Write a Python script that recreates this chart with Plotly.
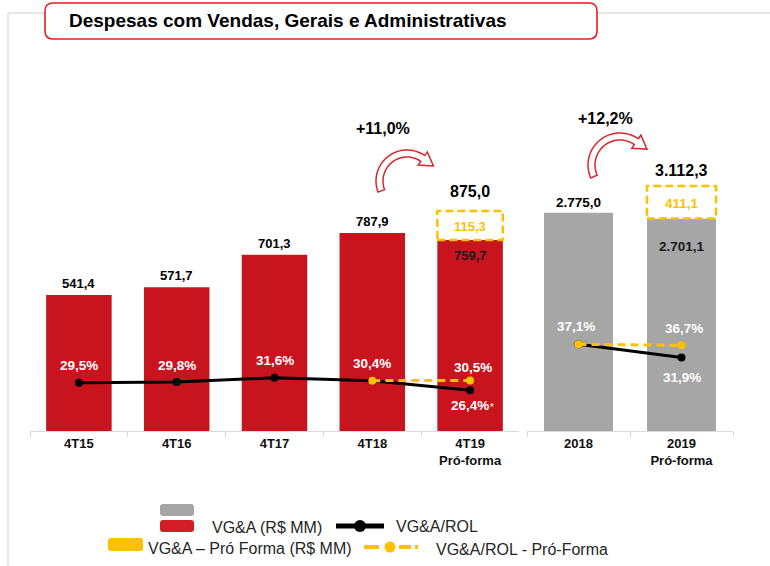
import math
import plotly.graph_objects as go

W, H = 770, 566

# ---------------- data ----------------
q_cats = ["4T15", "4T16", "4T17", "4T18", "4T19<br>Pró-forma"]
q_vga = [541.4, 571.7, 701.3, 787.9, 759.7]
q_pf_add = 115.3
q_total_pf = 875.0
q_ratio = [29.5, 29.8, 31.6, 30.4, 26.4]
q_ratio_pf_cats = ["4T18", "4T19<br>Pró-forma"]
q_ratio_pf = [30.4, 30.5]

y_cats = ["2018", "2019<br>Pró-forma"]
y_vga = [2775.0, 2701.1]
y_pf_add = 411.1
y_total_pf = 3112.3
y_ratio = [37.1, 31.9]
y_ratio_pf = [37.1, 36.7]

growth_labels = ["+11,0%", "+12,2%"]
title_text = "Despesas com Vendas, Gerais e Administrativas"
legend_labels = ["VG&A (R$ MM)", "VG&A/ROL", "VG&A – Pró Forma (R$ MM)", "VG&A/ROL - Pró-Forma"]

# ---------------- style ----------------
RED = "#C8141E"
GRAY = "#A6A6A6"
YEL = "#FFC000"
BLK = "#000000"
ARROW_RED = "#D7262E"
FONT = "Liberation Sans, Arial, sans-serif"
BW = 0.67


def br(v, d=1):
    s = f"{v:,.{d}f}"
    return s.replace(",", "X").replace(".", ",").replace("X", ".")


def pct(v):
    return br(v) + "%"


def PX(px):
    return px / W


def PY(py):
    return 1 - py / H


Y0, Y1 = PY(431), PY(60)

fig = go.Figure()

# bars
fig.add_trace(go.Bar(x=q_cats, y=q_vga, marker=dict(color=RED, line=dict(width=0)),
                     width=BW, xaxis="x", yaxis="y", hoverinfo="skip"))
fig.add_trace(go.Bar(x=y_cats, y=y_vga, marker=dict(color=GRAY, line=dict(width=0)),
                     width=BW, xaxis="x2", yaxis="y3", hoverinfo="skip"))

# ratio lines
fig.add_trace(go.Scatter(x=q_cats, y=q_ratio, mode="lines+markers",
                         line=dict(color=BLK, width=3), marker=dict(color=BLK, size=8),
                         xaxis="x", yaxis="y2", hoverinfo="skip"))
fig.add_trace(go.Scatter(x=q_ratio_pf_cats, y=q_ratio_pf, mode="lines+markers",
                         line=dict(color=YEL, width=3, dash="8px,5px"), marker=dict(color=YEL, size=8),
                         xaxis="x", yaxis="y2", hoverinfo="skip"))
fig.add_trace(go.Scatter(x=y_cats, y=y_ratio, mode="lines+markers",
                         line=dict(color=BLK, width=3), marker=dict(color=BLK, size=8),
                         xaxis="x2", yaxis="y4", hoverinfo="skip"))
fig.add_trace(go.Scatter(x=y_cats, y=y_ratio_pf, mode="lines+markers",
                         line=dict(color=YEL, width=3, dash="8px,5px"), marker=dict(color=YEL, size=8),
                         xaxis="x2", yaxis="y4", hoverinfo="skip"))

tickfont = dict(family=FONT, size=13, color="#111111", weight="bold")
xcommon = dict(type="category", showline=True, linecolor="#D9D9D9", linewidth=1,
               ticks="outside", tickson="boundaries", ticklen=5, tickcolor="#D9D9D9",
               tickfont=tickfont, showgrid=False, zeroline=False, fixedrange=True)

fig.update_layout(
    width=W, height=H, margin=dict(l=0, r=0, t=0, b=0),
    paper_bgcolor="white", plot_bgcolor="white", showlegend=False, barmode="overlay",
    xaxis=dict(domain=[PX(30), PX(519)], anchor="y", categoryorder="array", categoryarray=q_cats,
               range=[-0.5, len(q_cats) - 0.5], **xcommon),
    yaxis=dict(domain=[Y0, Y1], anchor="x", range=[0, 1476], visible=False, fixedrange=True),
    yaxis2=dict(overlaying="y", anchor="x", range=[9.25, 165.1], visible=False, fixedrange=True),
    xaxis2=dict(domain=[PX(527), PX(733)], anchor="y3", categoryorder="array", categoryarray=y_cats,
                range=[-0.5, len(y_cats) - 0.5], **xcommon),
    yaxis3=dict(domain=[Y0, Y1], anchor="x2", range=[0, 4715], visible=False, fixedrange=True),
    yaxis4=dict(overlaying="y3", anchor="x2", range=[3.1, 148.6], visible=False, fixedrange=True),
)

shapes = []
anns = []

# page frame lines
shapes.append(dict(type="line", xref="paper", yref="paper", x0=PX(8), y0=PY(13), x1=1, y1=PY(13),
                   line=dict(color="#DDDDDD", width=1.5), layer="below"))
shapes.append(dict(type="line", xref="paper", yref="paper", x0=PX(8), y0=PY(13), x1=PX(8), y1=0,
                   line=dict(color="#DDDDDD", width=1.5), layer="below"))


def rrect(x0, y0, x1, y1, r):
    pts = (f"M {PX(x0 + r)},{PY(y0)} L {PX(x1 - r)},{PY(y0)} Q {PX(x1)},{PY(y0)} {PX(x1)},{PY(y0 + r)} "
           f"L {PX(x1)},{PY(y1 - r)} Q {PX(x1)},{PY(y1)} {PX(x1 - r)},{PY(y1)} "
           f"L {PX(x0 + r)},{PY(y1)} Q {PX(x0)},{PY(y1)} {PX(x0)},{PY(y1 - r)} "
           f"L {PX(x0)},{PY(y0 + r)} Q {PX(x0)},{PY(y0)} {PX(x0 + r)},{PY(y0)} Z")
    return pts


# title box
shapes.append(dict(type="path", xref="paper", yref="paper", path=rrect(45, 3, 597, 39, 8),
                   line=dict(color="#E31E24", width=1.6), fillcolor="white"))
anns.append(dict(xref="paper", yref="paper", x=PX(67), y=PY(20), xanchor="left", yanchor="middle",
                 text=title_text, showarrow=False,
                 font=dict(family=FONT, size=19, color="#000000", weight="bold")))

# pro-forma dashed boxes (from data)
qi = len(q_cats) - 1
shapes.append(dict(type="rect", xref="x", yref="y", x0=qi - BW / 2, x1=qi + BW / 2,
                   y0=q_vga[-1], y1=q_vga[-1] + q_pf_add, fillcolor="white",
                   line=dict(color=YEL, width=2.5, dash="8px,4px")))
yi = len(y_cats) - 1
shapes.append(dict(type="rect", xref="x2", yref="y3", x0=yi - BW / 2, x1=yi + BW / 2,
                   y0=y_vga[-1], y1=y_vga[-1] + y_pf_add, fillcolor="white",
                   line=dict(color=YEL, width=2.5, dash="8px,4px")))


def lab(x, y, xref, yref, text, size=13, color="#000000", yanchor="bottom", yshift=0, xshift=0, bold=True):
    anns.append(dict(x=x, y=y, xref=xref, yref=yref, text=text, showarrow=False,
                     yanchor=yanchor, xanchor="center", yshift=yshift, xshift=xshift,
                     font=dict(family=FONT, size=size, color=color, weight="bold" if bold else "normal")))


# category positions as indices (avoid numeric-looking category strings)
qx = {c: i for i, c in enumerate(q_cats)}
yx = {c: i for i, c in enumerate(y_cats)}

# bar value labels (quarterly)
for c, v in zip(q_cats[:-1], q_vga[:-1]):
    lab(qx[c], v, "x", "y", br(v), size=13, yshift=2)
lab(qi, q_vga[-1], "x", "y", br(q_vga[-1]), size=13, color="#1A1A1A", yanchor="top", yshift=-6)
lab(qi, q_vga[-1] + q_pf_add / 2, "x", "y", br(q_pf_add), size=13, color=YEL, yanchor="middle", yshift=-1)
lab(qi, q_total_pf, "x", "y", br(q_total_pf), size=16, yshift=9)

# bar value labels (annual)
lab(yx[y_cats[0]], y_vga[0], "x2", "y3", br(y_vga[0]), size=13.5, yshift=1)
lab(yi, y_vga[-1], "x2", "y3", br(y_vga[-1]), size=13.5, color="#1A1A1A", yanchor="top", yshift=-19)
lab(yi, y_vga[-1] + y_pf_add / 2, "x2", "y3", br(y_pf_add), size=13.5, color=YEL, yanchor="middle", yshift=-1)
lab(yi, y_total_pf, "x2", "y3", br(y_total_pf), size=16, yshift=5)

# ratio labels (white)
for c, v in zip(q_cats, q_ratio):
    if c == q_cats[-1]:
        lab(qx[c], v, "x", "y2", pct(v), size=13.5, color="white", yanchor="middle", yshift=-15)
    else:
        lab(qx[c], v, "x", "y2", pct(v), size=13.5, color="white", yanchor="middle", yshift=17)
lab(qx[q_ratio_pf_cats[-1]], q_ratio_pf[-1], "x", "y2", pct(q_ratio_pf[-1]), size=13.5, color="white",
    yanchor="middle", yshift=13, xshift=3)
anns.append(dict(x=qi, y=q_ratio[-1], xref="x", yref="y2", text="*", showarrow=False,
                 xshift=22, yshift=-17, font=dict(family=FONT, size=10, color="white")))

lab(yx[y_cats[0]], y_ratio[0], "x2", "y4", pct(y_ratio[0]), size=13.5, color="white", yanchor="middle", yshift=18, xshift=-3)
lab(yi, y_ratio_pf[-1], "x2", "y4", pct(y_ratio_pf[-1]), size=13.5, color="white", yanchor="middle", yshift=17, xshift=2)
lab(yi, y_ratio[-1], "x2", "y4", pct(y_ratio[-1]), size=13.5, color="white", yanchor="middle", yshift=-20)

# growth labels
for (gx, gy), t in zip([(383, 128), (605, 118)], growth_labels):
    anns.append(dict(xref="paper", yref="paper", x=PX(gx), y=PY(gy), text=t, showarrow=False,
                     xanchor="center", yanchor="middle",
                     font=dict(family=FONT, size=16, color="#000000", weight="bold")))


# curved arrows
def arrow_path(cx, cy, r_in, r_out, a_start, a_end, head_extra, head_len):
    def pt(r, a):
        ar = math.radians(a)
        return cx + r * math.cos(ar), cy - r * math.sin(ar)
    n = 30
    outer = [pt(r_out, a_start + (a_end - a_start) * i / n) for i in range(n + 1)]
    inner = [pt(r_in, a_end + (a_start - a_end) * i / n) for i in range(n + 1)]
    rm = (r_in + r_out) / 2
    mx, my = pt(rm, a_end)
    ar = math.radians(a_end)
    tip = (mx + head_len * math.sin(ar), my + head_len * math.cos(ar))
    b_out = pt(r_out + head_extra, a_end)
    b_in = pt(r_in - head_extra, a_end)
    pts = outer + [b_out, tip, b_in] + inner
    return "M " + " L ".join(f"{PX(x):.5f},{PY(y):.5f}" for x, y in pts) + " Z"


shapes.append(dict(type="path", xref="paper", yref="paper",
                   path=arrow_path(407, 181, 24, 31, 201, 55, 4.5, 13),
                   line=dict(color=ARROW_RED, width=1.5), fillcolor="white"))
shapes.append(dict(type="path", xref="paper", yref="paper",
                   path=arrow_path(620, 165, 25, 32, 204, 55, 4.5, 13),
                   line=dict(color=ARROW_RED, width=1.5), fillcolor="white"))

# legend (custom)
shapes.append(dict(type="path", xref="paper", yref="paper", path=rrect(160, 504, 194, 516, 3),
                   fillcolor=GRAY, line=dict(width=0)))
shapes.append(dict(type="path", xref="paper", yref="paper", path=rrect(160, 520, 194, 532, 3),
                   fillcolor="#D41C24", line=dict(width=0)))
shapes.append(dict(type="path", xref="paper", yref="paper", path=rrect(108, 538, 143, 551, 3),
                   fillcolor=YEL, line=dict(width=0)))
shapes.append(dict(type="line", xref="paper", yref="paper", x0=PX(336), x1=PX(384), y0=PY(526), y1=PY(526),
                   line=dict(color=BLK, width=5)))
shapes.append(dict(type="circle", xref="paper", yref="paper", x0=PX(354), x1=PX(366), y0=PY(520), y1=PY(532),
                   fillcolor=BLK, line=dict(width=0)))
for a, b in [(364, 379), (399, 411), (415, 418)]:
    shapes.append(dict(type="line", xref="paper", yref="paper", x0=PX(a), x1=PX(b), y0=PY(547), y1=PY(547),
                       line=dict(color=YEL, width=4)))
shapes.append(dict(type="circle", xref="paper", yref="paper", x0=PX(384.5), x1=PX(395.5), y0=PY(541.5), y1=PY(552.5),
                   fillcolor=YEL, line=dict(width=0)))

lfont = dict(family=FONT, size=16, color="#262626")
for (lx, ly), t in zip([(210, 527), (394, 526), (146, 548), (434, 549)], legend_labels):
    anns.append(dict(xref="paper", yref="paper", x=PX(lx), y=PY(ly), text=t, showarrow=False,
                     xanchor="left", yanchor="middle", font=lfont))

fig.update_layout(shapes=shapes, annotations=anns)
fig.write_html("out.html", config={"displayModeBar": False, "staticPlot": True},
               post_script="document.body.style.margin='0';")
